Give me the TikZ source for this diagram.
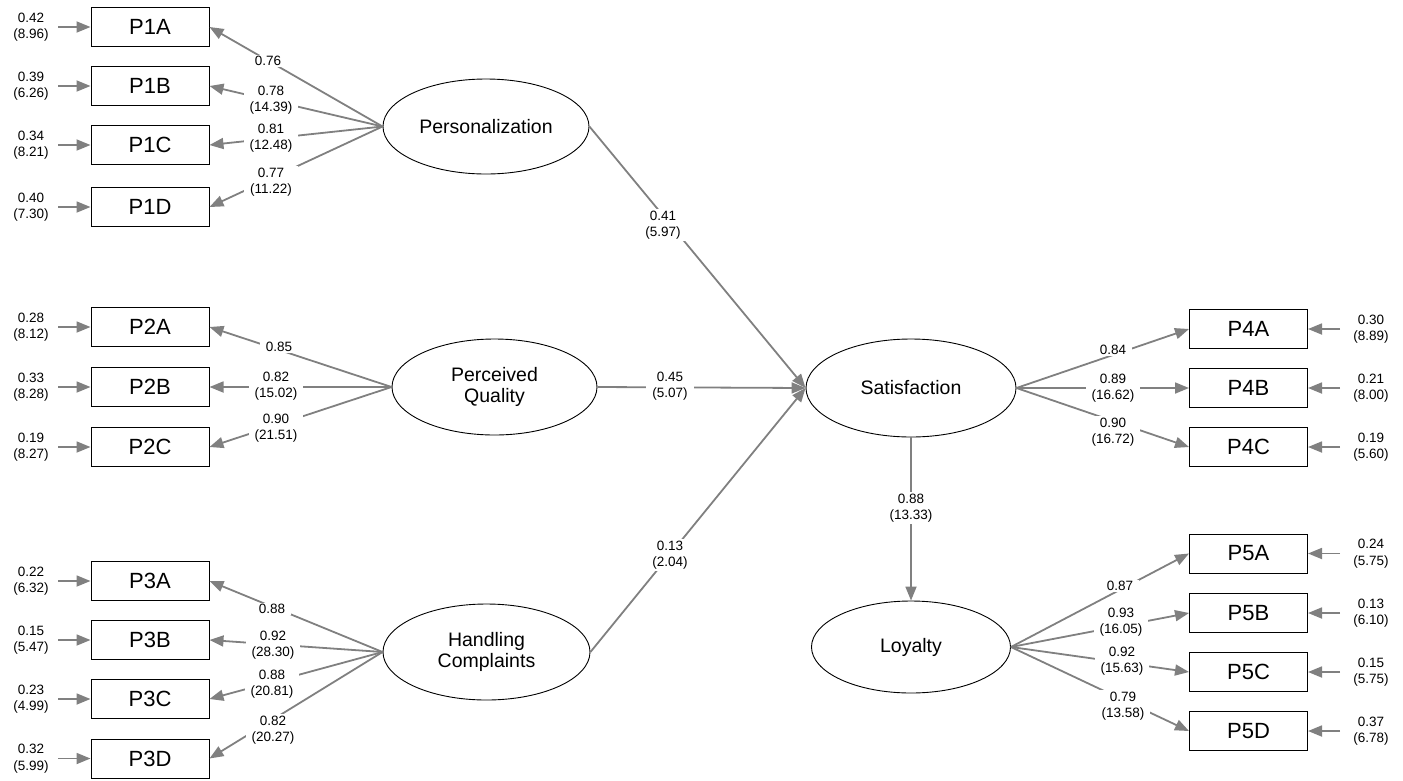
\documentclass[tikz,border=0pt]{standalone}
\usepackage{fontspec}
\setmainfont{Liberation Sans}
\usetikzlibrary{shapes.geometric,arrows.meta}
\definecolor{arrgray}{RGB}{128,128,128}
\begin{document}
\begin{tikzpicture}[x=1pt,y=-1pt,
  ind/.style={draw=black, line width=1pt, minimum width=118pt, minimum height=39pt, inner sep=0pt, font=\fontsize{22}{24}\selectfont},
  lat/.style={draw=black, line width=0.9pt, ellipse, inner sep=0pt, align=center, font=\fontsize{19.5}{21.5}\selectfont},
  num/.style={align=center, font=\fontsize{13.5}{16.5}\selectfont, inner xsep=6pt, inner ysep=1.5pt},
  lab/.style={num, fill=white},
  arr/.style={draw=arrgray, line width=1.8pt, -{Triangle[length=14pt,width=11pt]}},
]
\useasboundingbox (0,0) rectangle (1403,780);

% latent variables
\node[lat, minimum width=206pt, minimum height=95pt] (pers) at (486,126.5) {Personalization};
\node[lat, minimum width=205pt, minimum height=96pt] (perc) at (494.5,387) {Perceived\\Quality};
\node[lat, minimum width=207pt, minimum height=96pt] (hand) at (486.5,652) {Handling\\Complaints};
\node[lat, minimum width=210pt, minimum height=98pt] (sat) at (911,388) {Satisfaction};
\node[lat, minimum width=199pt, minimum height=92pt] (loy) at (911,647) {Loyalty};

% left indicators
\foreach \nm/\yy/\ea/\eb in {P1A/27/0.42/8.96, P1B/86/0.39/6.26, P1C/145/0.34/8.21, P1D/207/0.40/7.30,
  P2A/327/0.28/8.12, P2B/387/0.33/8.28, P2C/447/0.19/8.27,
  P3A/581/0.22/6.32, P3B/640/0.15/5.47, P3C/699/0.23/4.99, P3D/758.5/0.32/5.99} {
  \node[ind] (\nm) at (150,\yy) {\nm};
  \node[num] (e\nm) at (31,\yy) {\ea\\(\eb)};
  \coordinate (t\nm) at (58,\yy);
  \draw[arr] (t\nm) -- (\nm.west);
}

% right indicators
\foreach \nm/\yy/\ea/\eb in {P4A/329/0.30/8.89, P4B/388/0.21/8.00, P4C/447/0.19/5.60,
  P5A/553.5/0.24/5.75, P5B/613/0.13/6.10, P5C/672/0.15/5.75, P5D/731/0.37/6.78} {
  \node[ind] (\nm) at (1248.5,\yy) {\nm};
  \node[num] (e\nm) at (1371,\yy) {\ea\\(\eb)};
  \coordinate (t\nm) at (1340,\yy);
  \draw[arr] (t\nm) -- (\nm.east);
}

% loadings (left side)
\foreach \lv/\nm/\lx/\ly/\lt in {
  pers/P1A/268/61/{0.76}, pers/P1B/271/100/{0.78\\(14.39)}, pers/P1C/271/138/{0.81\\(12.48)}, pers/P1D/271/182/{0.77\\(11.22)},
  perc/P2A/279/347/{0.85}, perc/P2B/276/386/{0.82\\(15.02)}, perc/P2C/276/428/{0.90\\(21.51)},
  hand/P3A/272/609/{0.88}, hand/P3B/273/645/{0.92\\(28.30)}, hand/P3C/272/684/{0.88\\(20.81)}, hand/P3D/273/730/{0.82\\(20.27)}} {
  \draw[arr] (\lv.west) -- (\nm.east);
  \node[lab] at (\lx,\ly) {\lt};
}

% loadings (right side)
\foreach \lv/\nm/\lx/\ly/\lt in {
  sat/P4A/1113/350/{0.84}, sat/P4B/1113/388/{0.89\\(16.62)}, sat/P4C/1113/432/{0.90\\(16.72)},
  loy/P5A/1120/586/{0.87}, loy/P5B/1121/622/{0.93\\(16.05)}, loy/P5C/1122/661/{0.92\\(15.63)}, loy/P5D/1123/706/{0.79\\(13.58)}} {
  \draw[arr] (\lv.east) -- (\nm.west);
  \node[lab] at (\lx,\ly) {\lt};
}

% structural paths
\draw[arr] (pers.east) -- (sat.west);
\node[lab] at (663,225) {0.41\\(5.97)};
\draw[arr] (perc.east) -- (sat.west);
\node[lab] at (670,386) {0.45\\(5.07)};
\draw[arr] (hand.east) -- (sat.west);
\node[lab] at (670,555) {0.13\\(2.04)};
\draw[arr] (sat.south) -- (loy.north);
\node[lab] at (911,508) {0.88\\(13.33)};
\end{tikzpicture}
\end{document}
